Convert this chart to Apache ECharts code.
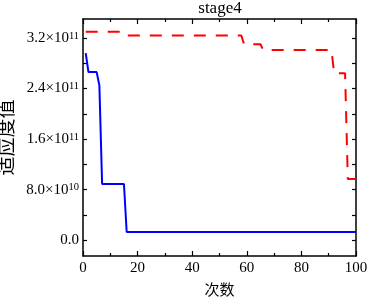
<!DOCTYPE html>
<html>
<head>
<meta charset="utf-8">
<script src="https://cdn.jsdelivr.net/npm/echarts@6/dist/echarts.min.js"></script>
<style>
  html, body { margin: 0; padding: 0; background: #fff; }
  #chart { width: 370px; height: 302px; }
</style>
</head>
<body>
<div id="chart"></div>
<script>
// blue (solid) line, breakpoints
const blueX = [1, 2, 5, 6, 7, 15, 16, 100]
const blueY = [2.96e11, 2.66e11, 2.66e11, 2.45e11, 8.9e10, 8.9e10, 1.3e10, 1.3e10]
// red (dashed) line
const redX = [1, 14, 15, 58, 59, 65, 66, 91, 92, 96, 97, 100]
const redY = [3.30e11, 3.30e11, 3.24e11, 3.24e11, 3.10e11, 3.10e11, 3.01e11, 3.01e11, 2.64e11, 2.64e11, 9.7e10, 9.7e10]

const yLabelValues = [0, 8e10, 1.6e11, 2.4e11, 3.2e11]
const yTickValues = [0, 4e10, 8e10, 1.2e11, 1.6e11, 2.0e11, 2.4e11, 2.8e11, 3.2e11]

const serif = 'Liberation Serif'
const cjk = 'Noto Sans CJK SC'

function pairs(xs, ys) {
  return xs.map((x, i) => [x, ys[i]])
}

function sciLabel(v) {
  if (v === 0) return '{b|0.0}'
  const e = Math.floor(Math.log10(v) + 1e-9)
  const m = (v / Math.pow(10, e)).toFixed(1)
  return '{b|' + m + '×10}{s|' + e + '}'
}

const chart = echarts.init(document.getElementById('chart'))

const lineStyleAxis = { show: true, onZero: false, lineStyle: { color: '#000', width: 1.5 } }

chart.setOption({
  animation: false,
  title: {
    text: 'stage4',
    left: 220,
    top: 0,
    padding: 0,
    textAlign: 'center',
    textStyle: { fontFamily: serif, fontSize: 17, fontWeight: 'normal', color: '#000' }
  },
  grid: { left: 83, right: 14, top: 19, bottom: 46, outerBoundsMode: 'none', containLabel: false },
  xAxis: [
    {
      type: 'value',
      min: 0,
      max: 100,
      interval: 20,
      name: '次数',
      nameLocation: 'middle',
      nameGap: 26,
      nameTextStyle: { fontFamily: cjk, fontSize: 15, color: '#000' },
      axisLine: lineStyleAxis,
      axisTick: { inside: true, length: 5, lineStyle: { color: '#000', width: 1.2 } },
      minorTick: { show: true, splitNumber: 2, length: 3, lineStyle: { color: '#000', width: 1.2 } },
      axisLabel: { margin: 5, fontFamily: serif, fontSize: 15, color: '#000' },
      splitLine: { show: false }
    },
    {
      type: 'value',
      position: 'top',
      min: 0,
      max: 100,
      interval: 20,
      axisLine: lineStyleAxis,
      axisTick: { inside: true, length: 5, lineStyle: { color: '#000', width: 1.2 } },
      minorTick: { show: true, splitNumber: 2, length: 3, lineStyle: { color: '#000', width: 1.2 } },
      axisLabel: { show: false },
      splitLine: { show: false }
    }
  ],
  yAxis: [
    {
      type: 'value',
      min: -2.5e10,
      max: 3.5e11,
      name: '适应度值',
      nameLocation: 'middle',
      nameGap: 59,
      nameTextStyle: { fontFamily: cjk, fontSize: 19, color: '#000' },
      axisLine: lineStyleAxis,
      axisTick: { inside: true, length: 4, customValues: yTickValues, lineStyle: { color: '#000', width: 1.2 } },
      axisLabel: {
        margin: 4,
        customValues: yLabelValues,
        formatter: sciLabel,
        rich: {
          b: { fontFamily: serif, fontSize: 15, color: '#000' },
          s: { fontFamily: serif, fontSize: 10.5, color: '#000', verticalAlign: 'top' }
        }
      },
      splitLine: { show: false }
    },
    {
      type: 'value',
      position: 'right',
      min: -2.5e10,
      max: 3.5e11,
      axisLine: lineStyleAxis,
      axisTick: { inside: true, length: 4, customValues: yTickValues, lineStyle: { color: '#000', width: 1.2 } },
      axisLabel: { show: false },
      splitLine: { show: false }
    }
  ],
  series: [
    {
      type: 'line',
      data: pairs(blueX, blueY),
      showSymbol: false,
      lineStyle: { color: '#0000ff', width: 2 }
    },
    {
      type: 'line',
      data: pairs(redX, redY),
      showSymbol: false,
      lineStyle: { color: '#ff0000', width: 2, type: [12, 10] }
    }
  ]
})
</script>
</body>
</html>
